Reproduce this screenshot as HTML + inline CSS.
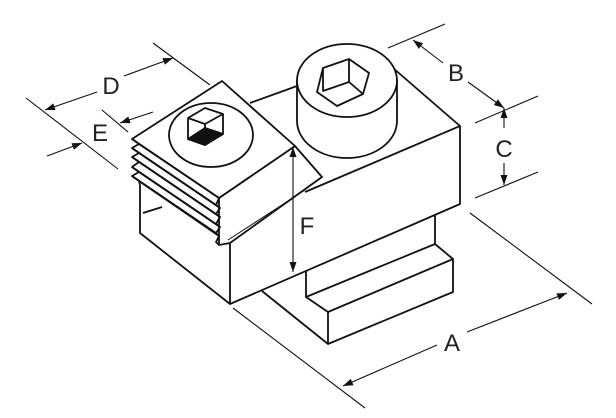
<!DOCTYPE html>
<html><head><meta charset="utf-8"><style>
html,body{margin:0;padding:0;background:#fff;}
svg{display:block;}
text{font-family:"Liberation Sans",sans-serif;font-size:24px;fill:#222;}
</style></head><body>
<svg width="616" height="418" viewBox="0 0 616 418" xmlns="http://www.w3.org/2000/svg">
<defs>
<marker id="ar" viewBox="0 0 10 10" refX="10" refY="5" markerWidth="10" markerHeight="10" markerUnits="userSpaceOnUse" orient="auto-start-reverse" >
<path d="M0,1.5 L10,5 L0,8.5 z" fill="#111"/></marker>
</defs>
<g fill="none" stroke="#111" stroke-width="1.8" stroke-linejoin="round">
<polyline points="435,215 435,244 453,259 453,292 328,344 262,291"/>
<polyline points="306,271 306,297 435,244"/>
<polyline points="306,297 328,312 453,259"/>
<line x1="328" y1="312" x2="328" y2="344"/>
<polyline points="230,243 230,304 460,204 460,126 393,68"/>
<line x1="305" y1="192" x2="460" y2="126"/>
<polyline points="140,185 140,233 230,304"/>
<line x1="143" y1="213" x2="162" y2="207"/>
<line x1="250" y1="103" x2="297" y2="86"/>
<path d="M297,80 L297,121 A50,37 0 0 0 397,121 L397,80" fill="#fff"/>
<ellipse cx="347" cy="80.5" rx="50" ry="36.5" fill="#fff"/>
<polygon points="323,68 349,59 369,73 363,94 337,106 317,92"/>
<polyline points="323,68 323,91 349,82 349,59"/>
<line x1="349" y1="82" x2="363" y2="94"/>
<polygon points="295,146 322,177 230,243 219,245 219,198" fill="#fff"/>
<line x1="228" y1="240" x2="305" y2="190" stroke-width="1"/>
<polygon points="222,81 295,146 219,198 132,139" fill="#fff"/>
<ellipse cx="211" cy="135" rx="42" ry="32"/>
<polygon points="205,108 223,114 223,134 205,145 188,139 188,118"/>
<polyline points="188,118 205,124 223,114"/>
<line x1="205" y1="124" x2="205" y2="145"/>
<polygon points="188,139 205,145 223,134 205,128" fill="#111"/>
<polyline points="132,139 139,144 132,148 139,153 132,157 139,162 132,167 139,172 132,176 139,181 140,185" fill="#fff"/>
<line x1="139" y1="144" x2="219" y2="198"/>
<line x1="139" y1="153" x2="220" y2="208"/>
<line x1="139" y1="162" x2="220" y2="217"/>
<line x1="139" y1="172" x2="220" y2="227"/>
<line x1="139" y1="181" x2="219" y2="236"/>
<line x1="132" y1="148" x2="216" y2="205"/>
<line x1="132" y1="157" x2="216" y2="214"/>
<line x1="132" y1="167" x2="216" y2="224"/>
<line x1="132" y1="176" x2="216" y2="233"/>
<polyline points="219,198 216,205 220,208 216,214 220,217 216,224 220,227 216,233 219,236 216,242 219,245"/>
</g>
<g stroke="#111" stroke-width="1.1" fill="none">
<line x1="233" y1="308" x2="365" y2="408"/>
<line x1="470" y1="213" x2="592" y2="304"/>
<line x1="343" y1="386" x2="437" y2="345" marker-start="url(#ar)"/>
<line x1="467" y1="332" x2="567" y2="293" marker-end="url(#ar)"/>
<line x1="293" y1="147" x2="293" y2="272" marker-start="url(#ar)" marker-end="url(#ar)"/>
<line x1="388" y1="48" x2="445" y2="24"/>
<line x1="413" y1="40" x2="443" y2="63" marker-start="url(#ar)"/>
<line x1="468" y1="82" x2="504" y2="108" marker-end="url(#ar)"/>
<line x1="475" y1="123" x2="538" y2="96"/>
<line x1="475" y1="198" x2="538" y2="172"/>
<line x1="504" y1="128" x2="504" y2="108" marker-end="url(#ar)"/>
<line x1="504" y1="163" x2="504" y2="185" marker-end="url(#ar)"/>
<line x1="153" y1="43" x2="210" y2="85"/>
<line x1="26" y1="98" x2="118" y2="169"/>
<line x1="97" y1="92" x2="45" y2="110" marker-end="url(#ar)"/>
<line x1="124" y1="76" x2="173" y2="58" marker-end="url(#ar)"/>
<line x1="102" y1="110" x2="128" y2="132"/>
<line x1="153" y1="112" x2="120" y2="123" marker-end="url(#ar)"/>
<line x1="47" y1="156" x2="82" y2="143" marker-end="url(#ar)"/>
</g>
<text x="452" y="351" text-anchor="middle">A</text>
<text x="307" y="234" text-anchor="middle">F</text>
<text x="456" y="81" text-anchor="middle">B</text>
<text x="504" y="157" text-anchor="middle">C</text>
<text x="111" y="94" text-anchor="middle">D</text>
<text x="100" y="141" text-anchor="middle">E</text>
</svg>
</body></html>
